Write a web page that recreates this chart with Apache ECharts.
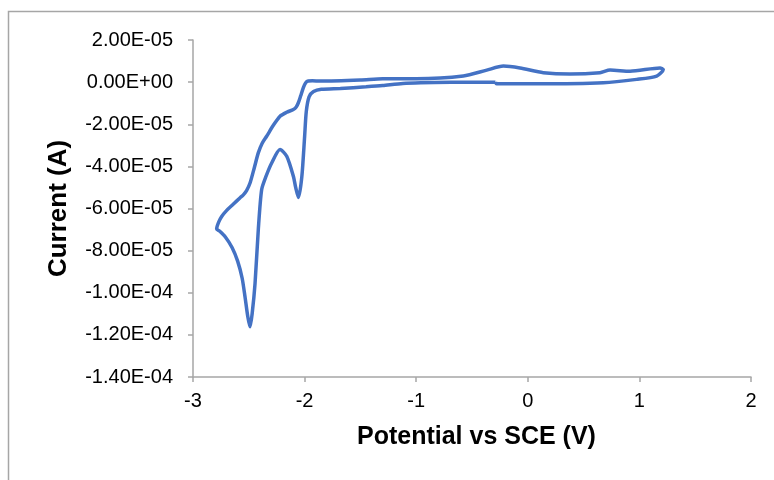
<!DOCTYPE html>
<html>
<head>
<meta charset="utf-8">
<script src="https://cdn.jsdelivr.net/npm/echarts@6/dist/echarts.min.js"></script>
<style>
html,body{margin:0;padding:0;background:#fff;}
#chart{width:774px;height:480px;}
</style>
</head>
<body>
<div id="chart"></div>
<script>
// Potential (V) vs SCE
const potential = [
  -0.29, -0.67, -1.12, -1.30, -1.45, -1.68, -1.85, -1.92, -1.96, -1.985, -2.0, -2.025, -2.055, -2.08, -2.10, -2.16, -2.22, -2.295, -2.346, -2.385, -2.415, -2.444, -2.470, -2.489, -2.510, -2.534, -2.560, -2.600, -2.650, -2.710, -2.760, -2.788,
  -2.770, -2.743, -2.700, -2.640, -2.580, -2.549, -2.520, -2.489, -2.450, -2.415, -2.380, -2.340, -2.280, -2.220, -2.160, -2.101, -2.075, -2.056, -2.035, -2.012, -1.990, -1.967, -1.930, -1.862, -1.5, -1.30, -1.0, -0.578, -0.368, -0.219, -0.070, 0.139, 0.378, 0.647, 0.737, 0.916, 1.185, 1.214,
  1.155, 0.976, 0.677, 0.079, -0.28, -0.29
];
// Current in microamps (1e-6 A)
const currentMicroA = [
  0.0, -0.1, -0.6, -1.6, -2.2, -3.0, -3.4, -4.5, -7, -14, -26, -45, -54.8, -50, -44.8, -35.2, -32.0, -38.4, -44.8, -51.1, -70.1, -95.5, -110, -116.2, -111, -101.9, -93, -85, -78.5, -73.5, -70.8, -69.7,
  -66.5, -63.8, -61.0, -58.0, -55.0, -53.5, -51.5, -47.9, -40.5, -33.6, -29.0, -25.7, -20.5, -16.2, -14.3, -13.0, -11.8, -9.8, -6.5, -2.7, -0.3, 0.5, 0.6, 0.5, 1.0, 1.6, 1.6, 2.9, 5.7, 7.6, 6.7, 4.5, 3.8, 4.5, 5.7, 5.2, 6.7, 6.0,
  2.9, 1.3, -0.3, -0.8, -0.8, 0.0
];
const xTicks = { min: -3, max: 2, interval: 1 };
const yTicksMicroA = { min: -140, max: 20, interval: 20 };
const xTitle = 'Potential vs SCE (V)';
const yTitle = 'Current (A)';

function sci(v) {
  const s = (v * 1e-6).toExponential(2);
  const parts = s.split('e');
  let exp = parseInt(parts[1], 10);
  const sign = exp < 0 ? '-' : '+';
  exp = Math.abs(exp);
  return parts[0] + 'E' + sign + (exp < 10 ? '0' : '') + exp;
}

const data = potential.map((p, i) => [p, currentMicroA[i]]);
const chart = echarts.init(document.getElementById('chart'), null, { renderer: 'canvas' });
const font = 'Liberation Sans, Arial, sans-serif';
chart.setOption({
  animation: false,
  backgroundColor: '#ffffff',
  graphic: [{
    type: 'rect',
    shape: { x: 8.5, y: 11.5, width: 800, height: 500 },
    style: { fill: 'none', stroke: '#A6A6A6', lineWidth: 1.5 },
    silent: true
  }, {
    type: 'text',
    left: 357,
    top: 425,
    style: {
      text: xTitle,
      font: 'bold 25px ' + font, fill: '#000'
    }
  }],
  grid: { left: 193, right: 23, top: 40, bottom: 103, containLabel: false },
  xAxis: {
    type: 'value',
    min: xTicks.min, max: xTicks.max, interval: xTicks.interval,
    axisLine: { show: true, onZero: false, lineStyle: { color: '#A6A6A6', width: 1.5 } },
    axisTick: { show: true, length: 5, lineStyle: { color: '#A6A6A6', width: 1.5 } },
    splitLine: { show: false },
    axisLabel: { color: '#000', fontFamily: font, fontSize: 20, margin: 14 }
  },
  yAxis: {
    type: 'value',
    min: yTicksMicroA.min, max: yTicksMicroA.max, interval: yTicksMicroA.interval,
    name: yTitle,
    nameLocation: 'middle',
    nameGap: 121,
    nameRotate: 90,
    nameTextStyle: { color: '#000', fontFamily: font, fontSize: 26, fontWeight: 'bold' },
    axisLine: { show: true, onZero: false, lineStyle: { color: '#A6A6A6', width: 1.5 } },
    axisTick: { show: true, length: 5, lineStyle: { color: '#A6A6A6', width: 1.5 } },
    splitLine: { show: false },
    axisLabel: { color: '#000', fontFamily: font, fontSize: 20, margin: 20, formatter: sci }
  },
  series: [{
    type: 'line',
    data: data,
    showSymbol: false,
    smooth: 0.25,
    lineStyle: { color: '#4472C4', width: 3.5 },
    itemStyle: { color: '#4472C4' }
  }]
});
</script>
</body>
</html>
